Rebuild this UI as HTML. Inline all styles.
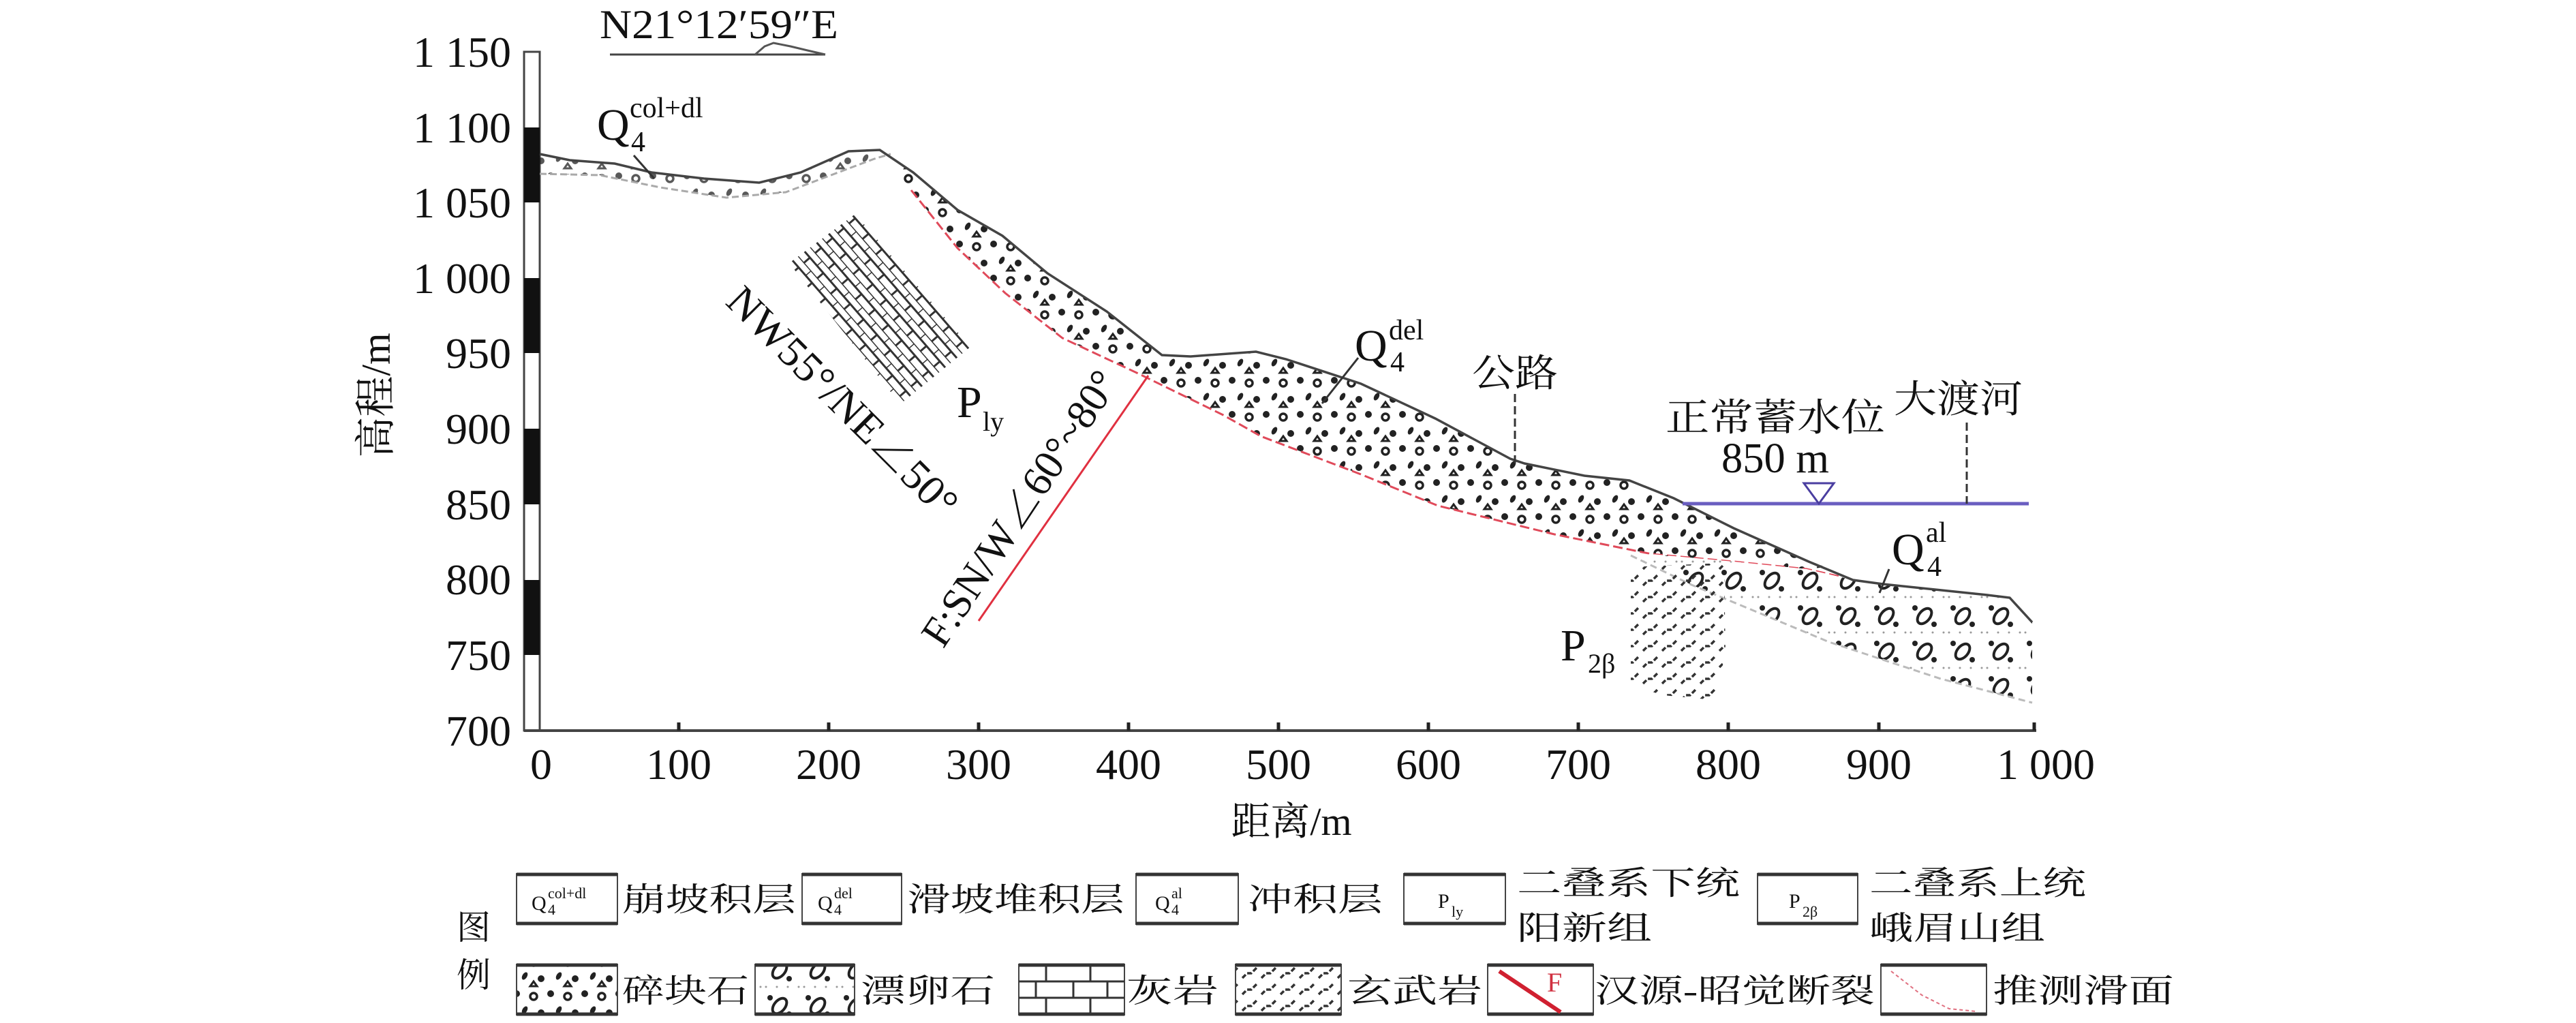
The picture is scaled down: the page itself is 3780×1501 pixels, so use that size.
<!DOCTYPE html>
<html><head><meta charset="utf-8"><style>
html,body{margin:0;padding:0;background:#fff;}
svg{display:block;}
text{font-family:"Liberation Serif","Noto Serif CJK SC",serif;fill:#111;}
.cn{font-family:"Liberation Serif","Noto Serif CJK SC",serif;}
</style></head><body>
<svg width="3780" height="1501" viewBox="0 0 3780 1501" xmlns="http://www.w3.org/2000/svg">
<defs>
<pattern id="dots" width="50" height="50" patternUnits="userSpaceOnUse">
<circle cx="8" cy="8" r="5" fill="#222"/>
<circle cx="33" cy="12" r="5" fill="none" stroke="#222" stroke-width="3.5"/>
<ellipse cx="20" cy="32" rx="3.5" ry="6" fill="#222" transform="rotate(30 20 32)"/>
<circle cx="44" cy="36" r="5" fill="#222"/>
<path d="M28 47 l5 -7 l5 7z" fill="none" stroke="#222" stroke-width="3"/>
</pattern>
<pattern id="pebble" width="56" height="52" patternUnits="userSpaceOnUse">
<rect width="56" height="52" fill="#fff"/>
<ellipse cx="24" cy="20" rx="13" ry="8" transform="rotate(-50 24 20)" fill="none" stroke="#222" stroke-width="4"/>
<circle cx="10" cy="8" r="4" fill="#222"/>
<circle cx="38" cy="32" r="4" fill="#222"/>
<circle cx="4" cy="44" r="1.5" fill="#999"/><circle cx="20" cy="44" r="1.5" fill="#999"/><circle cx="36" cy="44" r="1.5" fill="#999"/><circle cx="52" cy="44" r="1.5" fill="#999"/>
</pattern>
<pattern id="brick" width="30" height="22" patternUnits="userSpaceOnUse" patternTransform="rotate(49)">
<path d="M0 0H30M0 11H30M0 0V11M15 11V22" stroke="#333" stroke-width="3" fill="none"/>
</pattern>
<pattern id="basalt" width="28" height="24" patternUnits="userSpaceOnUse">
<path d="M3 19 l7 -7 h6 l8 -8" stroke="#333" stroke-width="3.5" fill="none" stroke-dasharray="7 3"/>
</pattern>
</defs>

<text x="880" y="56" font-size="60" textLength="350" lengthAdjust="spacingAndGlyphs">N21°12′59″E</text>
<line x1="895" y1="80" x2="1211" y2="80" stroke="#444" stroke-width="3"/>
<polyline points="1108,80 1122,68 1135,63 1160,68 1185,74 1211,80" fill="none" stroke="#555" stroke-width="3"/>

<rect x="769" y="76" width="23" height="996" fill="#fff" stroke="#444" stroke-width="3"/>
<rect x="769" y="187" width="23" height="110" fill="#111"/>
<rect x="769" y="408" width="23" height="110" fill="#111"/>
<rect x="769" y="629" width="23" height="111" fill="#111"/>
<rect x="769" y="851" width="23" height="110" fill="#111"/>
<g font-size="64" text-anchor="end">
<text x="750" y="98">1 150</text>
<text x="750" y="209">1 100</text>
<text x="750" y="319">1 050</text>
<text x="750" y="430">1 000</text>
<text x="750" y="540">950</text>
<text x="750" y="651">900</text>
<text x="750" y="762">850</text>
<text x="750" y="872">800</text>
<text x="750" y="983">750</text>
<text x="750" y="1094">700</text>
</g>
<text class="cn" x="0" y="0" font-size="60" text-anchor="middle" transform="translate(572 580) rotate(-90)">高程/m</text>

<line x1="769" y1="1072" x2="2988" y2="1072" stroke="#444" stroke-width="4"/>
<g stroke="#222" stroke-width="5">
<line x1="996" y1="1072" x2="996" y2="1060"/><line x1="1216" y1="1072" x2="1216" y2="1060"/>
<line x1="1436" y1="1072" x2="1436" y2="1060"/><line x1="1656" y1="1072" x2="1656" y2="1060"/>
<line x1="1876" y1="1072" x2="1876" y2="1060"/><line x1="2096" y1="1072" x2="2096" y2="1060"/>
<line x1="2316" y1="1072" x2="2316" y2="1060"/><line x1="2536" y1="1072" x2="2536" y2="1060"/>
<line x1="2757" y1="1072" x2="2757" y2="1060"/><line x1="2985" y1="1072" x2="2985" y2="1060"/>
</g>
<g font-size="64" text-anchor="middle">
<text x="794" y="1143">0</text><text x="996" y="1143">100</text><text x="1216" y="1143">200</text>
<text x="1436" y="1143">300</text><text x="1656" y="1143">400</text><text x="1876" y="1143">500</text>
<text x="2096" y="1143">600</text><text x="2316" y="1143">700</text><text x="2536" y="1143">800</text>
<text x="2757" y="1143">900</text><text x="3002" y="1143">1 000</text>
</g>
<text class="cn" x="1895" y="1225" font-size="58" text-anchor="middle">距离/m</text>

<path d="M792,226 L836,235 L902,240 L956,253 L1033,262 L1114,268 L1175,253 L1245,222 L1291,220 L1307,226 L1283,233 L1230,253 L1153,282 L1066,290 L969,275 L880,257 L792,255Z" fill="url(#dots)" opacity="0.75"/>
<polyline points="792,255 880,257 969,275 1066,290 1153,282 1230,253 1283,233 1307,226" fill="none" stroke="#aaa" stroke-width="3" stroke-dasharray="10 5"/>

<path d="M1291,220 L1340,253 L1405,308 L1471,346 L1537,401 L1624,457 L1705,521 L1747,523 L1843,516 L1887,527 L1997,563 L2106,614 L2216,673 L2237,680 L2325,698 L2391,705 L2456,731 L2544,775 L2654,824 L2680,832 L2651,835 L2544,824 L2424,813 L2281,784 L2110,742 L1997,696 L1850,640 L1795,609 L1668,547 L1559,496 L1475,430 L1405,364 L1337,279Z" fill="url(#dots)"/>
<polyline points="1337,279 1405,364 1475,430 1559,496 1668,547 1795,609 1850,640 1997,696 2110,742 2281,784 2424,813 2544,824 2651,835 2700,846" fill="none" stroke="#e04a5a" stroke-width="3" stroke-dasharray="14 6"/>

<path d="M2393,815 L2424,813 L2544,824 L2651,835 L2719,851 L2763,857 L2916,873 L2949,877 L2982,913 L2982,1031 L2848,996 L2684,942 L2482,858Z" fill="url(#pebble)"/>
<polyline points="2393,815 2482,858 2684,942 2848,996 2982,1031" fill="none" stroke="#bbb" stroke-width="3" stroke-dasharray="10 6"/>

<path d="M2393,832 L2530,826 L2532,960 L2515,1027 L2440,1020 L2393,1005Z" fill="url(#basalt)"/>

<polyline points="792,226 836,235 902,240 956,253 1033,262 1114,268 1175,253 1245,222 1291,220 1340,253 1405,308 1471,346 1537,401 1624,457 1705,521 1747,523 1843,516 1887,527 1997,563 2106,614 2216,673 2237,680 2325,698 2391,705 2456,731 2544,775 2654,824 2719,851 2763,857 2916,873 2949,877 2982,913" fill="none" stroke="#444" stroke-width="3.5"/>

<path d="M1158,386 L1255,314 L1424,509 L1321,593Z" fill="url(#brick)"/>

<line x1="1685" y1="551" x2="1436" y2="911" stroke="#e03040" stroke-width="3"/>

<line x1="2469" y1="739" x2="2977" y2="739" stroke="#6a5ec0" stroke-width="5"/>
<path d="M2647,709 L2691,709 L2669,739Z" fill="#fff" stroke="#4a3ea0" stroke-width="3"/>

<g stroke="#333" stroke-width="3" fill="none">
<line x1="930" y1="228" x2="960" y2="262"/>
<line x1="1993" y1="525" x2="1940" y2="592"/>
<line x1="2772" y1="835" x2="2758" y2="870"/>
<line x1="2223" y1="578" x2="2223" y2="680" stroke-dasharray="12 6"/>
<line x1="2886" y1="620" x2="2886" y2="739" stroke-dasharray="12 6"/>
</g>

<text x="876" y="205" font-size="66">Q</text>
<text x="924" y="172" font-size="42">col+dl</text>
<text x="926" y="222" font-size="42">4</text>

<text x="1988" y="529" font-size="66">Q</text>
<text x="2038" y="498" font-size="42">del</text>
<text x="2040" y="545" font-size="42">4</text>

<text x="2776" y="828" font-size="66">Q</text>
<text x="2826" y="795" font-size="42">al</text>
<text x="2828" y="845" font-size="42">4</text>

<text x="1404" y="612" font-size="66">P</text>
<text x="1442" y="632" font-size="40">ly</text>
<text x="2290" y="969" font-size="66">P</text>
<text x="2330" y="987" font-size="40">2β</text>

<text class="cn" x="2160" y="567" font-size="56" textLength="126" lengthAdjust="spacingAndGlyphs">公路</text>
<text class="cn" x="2444" y="632" font-size="56" textLength="322" lengthAdjust="spacingAndGlyphs">正常蓄水位</text>
<text x="2526" y="693" font-size="62" textLength="158" lengthAdjust="spacingAndGlyphs">850 m</text>
<text class="cn" x="2779" y="605" font-size="56" textLength="189" lengthAdjust="spacingAndGlyphs">大渡河</text>

<text x="0" y="20" font-size="62" text-anchor="middle" textLength="450" lengthAdjust="spacingAndGlyphs" transform="translate(1236 590) rotate(45)">NW55°/NE∠50°</text>
<text x="0" y="20" font-size="62" text-anchor="middle" textLength="470" lengthAdjust="spacingAndGlyphs" transform="translate(1497 746) rotate(-56.5)">F:SN/W∠60°~80°</text>

<g class="cn" font-size="50">
<text class="cn" x="670" y="1378">图</text>
<text class="cn" x="670" y="1448">例</text>
</g>
<g fill="#fff" stroke="#444" stroke-width="2">
<rect x="758" y="1282" width="148" height="74"/><rect x="1177" y="1282" width="146" height="74"/>
<rect x="1667" y="1282" width="150" height="74"/><rect x="2060" y="1282" width="149" height="74"/>
<rect x="2579" y="1282" width="147" height="74"/>
<rect x="758" y="1415" width="148" height="74" fill="url(#dots)"/><rect x="1108" y="1415" width="146" height="74" fill="url(#pebble)"/>
<rect x="1495" y="1415" width="155" height="74"/><rect x="1813" y="1415" width="155" height="74" fill="url(#basalt)"/>
<rect x="2183" y="1415" width="155" height="74"/><rect x="2760" y="1415" width="155" height="74"/>
</g>
<g stroke="#333" stroke-width="5">
<line x1="758" y1="1283" x2="906" y2="1283"/><line x1="758" y1="1355" x2="906" y2="1355"/>
<line x1="1177" y1="1283" x2="1323" y2="1283"/><line x1="1177" y1="1355" x2="1323" y2="1355"/>
<line x1="1667" y1="1283" x2="1817" y2="1283"/><line x1="1667" y1="1355" x2="1817" y2="1355"/>
<line x1="2060" y1="1283" x2="2209" y2="1283"/><line x1="2060" y1="1355" x2="2209" y2="1355"/>
<line x1="2579" y1="1283" x2="2726" y2="1283"/><line x1="2579" y1="1355" x2="2726" y2="1355"/>
<line x1="758" y1="1416" x2="906" y2="1416"/><line x1="758" y1="1488" x2="906" y2="1488"/>
<line x1="1108" y1="1416" x2="1254" y2="1416"/><line x1="1108" y1="1488" x2="1254" y2="1488"/>
<line x1="1495" y1="1416" x2="1650" y2="1416"/><line x1="1495" y1="1488" x2="1650" y2="1488"/>
<line x1="1813" y1="1416" x2="1968" y2="1416"/><line x1="1813" y1="1488" x2="1968" y2="1488"/>
<line x1="2183" y1="1416" x2="2338" y2="1416"/><line x1="2183" y1="1488" x2="2338" y2="1488"/>
<line x1="2760" y1="1416" x2="2915" y2="1416"/><line x1="2760" y1="1488" x2="2915" y2="1488"/>
</g>
<g stroke="#333" stroke-width="3">
<line x1="1495" y1="1440" x2="1650" y2="1440"/><line x1="1495" y1="1464" x2="1650" y2="1464"/>
<line x1="1535" y1="1416" x2="1535" y2="1440"/><line x1="1600" y1="1416" x2="1600" y2="1440"/>
<line x1="1520" y1="1440" x2="1520" y2="1464"/><line x1="1575" y1="1440" x2="1575" y2="1464"/><line x1="1625" y1="1440" x2="1625" y2="1464"/>
<line x1="1535" y1="1464" x2="1535" y2="1488"/><line x1="1600" y1="1464" x2="1600" y2="1488"/>
</g>
<line x1="2200" y1="1425" x2="2290" y2="1485" stroke="#d02030" stroke-width="6"/>
<text x="2270" y="1455" font-size="40" style="fill:#d03040">F</text>
<polyline points="2775,1425 2820,1460 2860,1480 2900,1484" fill="none" stroke="#e07080" stroke-width="2" stroke-dasharray="5 4"/>

<g font-size="30">
<text x="780" y="1335">Q</text><text x="804" y="1318" font-size="22">col+dl</text><text x="804" y="1342" font-size="22">4</text>
<text x="1200" y="1335">Q</text><text x="1224" y="1318" font-size="22">del</text><text x="1224" y="1342" font-size="22">4</text>
<text x="1695" y="1335">Q</text><text x="1719" y="1318" font-size="22">al</text><text x="1719" y="1342" font-size="22">4</text>
<text x="2110" y="1332">P</text><text x="2130" y="1345" font-size="22">ly</text>
<text x="2625" y="1332">P</text><text x="2645" y="1345" font-size="22">2β</text>
</g>
<g class="cn" font-size="48">
<text class="cn" x="913" y="1336" textLength="255" lengthAdjust="spacingAndGlyphs">崩坡积层</text>
<text class="cn" x="1331" y="1336" textLength="319" lengthAdjust="spacingAndGlyphs">滑坡堆积层</text>
<text class="cn" x="1831" y="1336" textLength="198" lengthAdjust="spacingAndGlyphs">冲积层</text>
<text class="cn" x="2226" y="1312" textLength="327" lengthAdjust="spacingAndGlyphs">二叠系下统</text>
<text class="cn" x="2226" y="1378" textLength="198" lengthAdjust="spacingAndGlyphs">阳新组</text>
<text class="cn" x="2743" y="1312" textLength="318" lengthAdjust="spacingAndGlyphs">二叠系上统</text>
<text class="cn" x="2743" y="1378" textLength="258" lengthAdjust="spacingAndGlyphs">峨眉山组</text>
<text class="cn" x="913" y="1470" textLength="186" lengthAdjust="spacingAndGlyphs">碎块石</text>
<text class="cn" x="1263" y="1470" textLength="197" lengthAdjust="spacingAndGlyphs">漂卵石</text>
<text class="cn" x="1653" y="1470" textLength="135" lengthAdjust="spacingAndGlyphs">灰岩</text>
<text class="cn" x="1977" y="1470" textLength="198" lengthAdjust="spacingAndGlyphs">玄武岩</text>
<text class="cn" x="2340" y="1470" textLength="411" lengthAdjust="spacingAndGlyphs">汉源-昭觉断裂</text>
<text class="cn" x="2924" y="1470" textLength="266" lengthAdjust="spacingAndGlyphs">推测滑面</text>
</g>
</svg>
</body></html>
